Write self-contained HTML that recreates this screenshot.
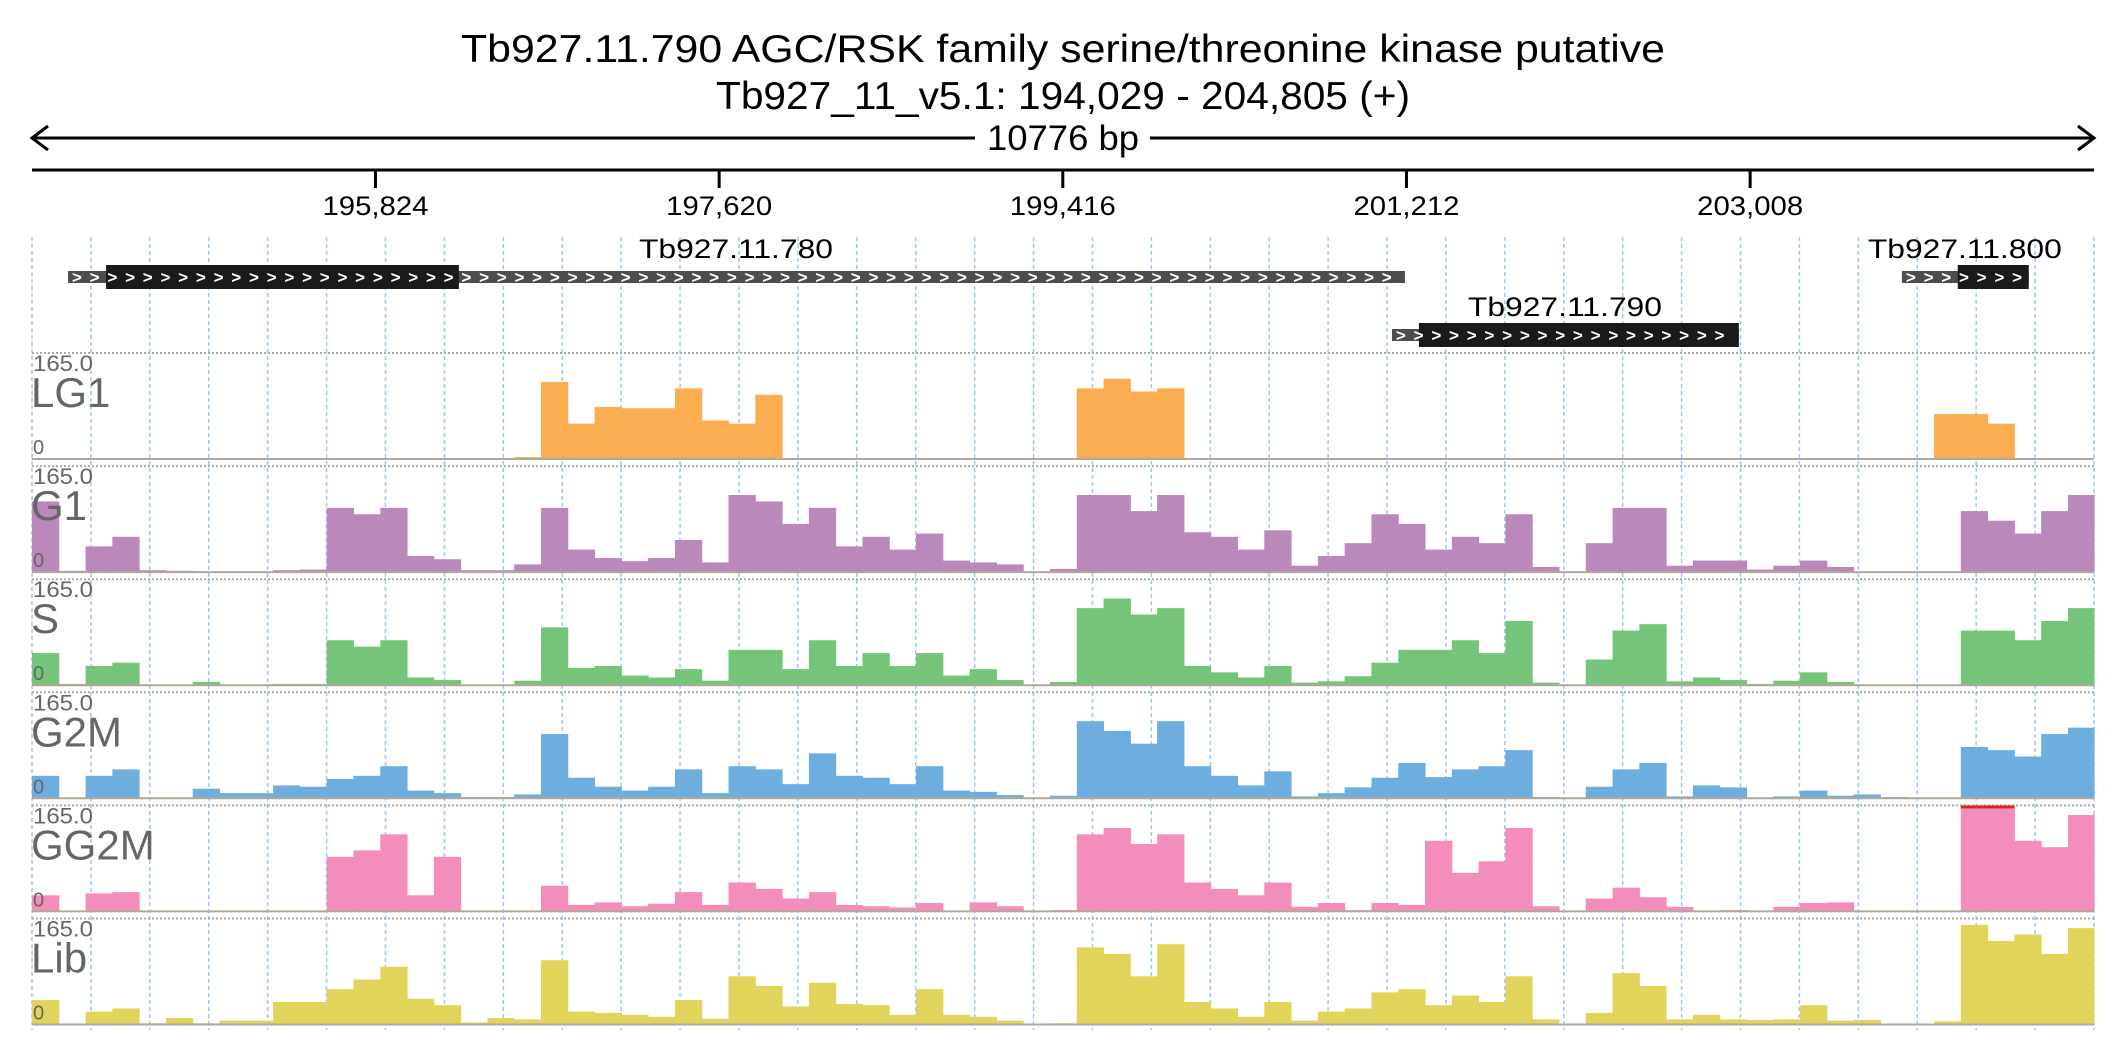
<!DOCTYPE html>
<html><head><meta charset="utf-8"><style>
html,body{margin:0;padding:0;background:#fff;}
svg{display:block;font-family:"Liberation Sans",sans-serif;}
</style></head><body>
<svg id="chart" width="2126" height="1058" viewBox="0 0 2126 1058" xmlns="http://www.w3.org/2000/svg">
<g id="grid"></g>
<text x="1063" y="62" font-size="39" text-anchor="middle" textLength="1204" lengthAdjust="spacingAndGlyphs" fill="#000">Tb927.11.790  AGC/RSK family serine/threonine kinase  putative</text>
<text x="1063" y="109" font-size="39" text-anchor="middle" textLength="694" lengthAdjust="spacingAndGlyphs" fill="#000">Tb927_11_v5.1: 194,029 - 204,805 (+)</text>
<g stroke="#000" stroke-width="3" fill="none">
<line x1="32" y1="138" x2="975" y2="138"/><line x1="1150" y1="138" x2="2094" y2="138"/>
<polyline points="48,126 32,138 48,150"/><polyline points="2078,126 2094,138 2078,150"/>
</g>
<text x="1063" y="150" font-size="35" text-anchor="middle" textLength="152" lengthAdjust="spacingAndGlyphs">10776 bp</text>
<line x1="32" y1="170" x2="2094" y2="170" stroke="#000" stroke-width="3"/>
<g id="ticks"></g>
<g id="genes"></g>
<g id="tracks"></g>
</svg>
<script>
const START = 194029, END = 204805, BIN = 140;
const tickValues = [195824, 197620, 199416, 201212, 203008];
const tickLabels = ["195,824", "197,620", "199,416", "201,212", "203,008"];
const trackNames = ["LG1", "G1", "S", "G2M", "GG2M", "Lib"];
const trackColors = ["#fbad52", "#bb88bb", "#76c479", "#6daedf", "#f38dbb", "#e0d55a"];
const yMax = 165;
const lg1 = [0,0,0,0,0,0,0,0,0,0,0,0,0,0,0,0,0,0,3,120,55,81,79,79,110,60,55,100,0,0,0,0,0,0,0,0,0,0,0,110,125,105,110,0,0,0,0,0,0,0,0,0,0,0,0,0,0,0,0,0,0,0,0,0,0,0,0,0,0,0,0,70,70,55,0,0,0];
const g1 = [110,2,40,55,3,2,1,1,1,3,4,100,90,100,25,20,3,3,12,100,35,22,17,22,50,15,120,110,75,100,40,55,35,60,18,15,12,1,5,120,120,95,120,62,55,35,65,10,25,45,90,75,35,55,45,90,8,0,45,100,100,10,18,18,4,10,18,8,0,0,0,0,95,80,60,95,120];
const s = [50,2,30,35,1,0,5,0,0,2,2,70,60,70,12,8,1,1,7,90,27,30,15,12,25,7,55,55,25,70,30,50,30,50,15,25,8,0,5,120,135,110,120,30,20,12,30,4,6,14,35,55,55,70,50,100,4,0,40,85,95,6,12,8,2,7,20,5,1,1,0,0,85,85,70,100,120];
const g2m = [35,1,35,45,0,0,15,8,8,20,18,30,35,50,12,8,2,2,6,100,32,18,12,18,45,8,50,45,22,70,35,32,22,50,12,10,5,0,4,120,105,85,120,50,35,20,42,3,8,17,32,55,33,45,50,75,2,0,18,45,55,3,20,17,1,3,12,4,6,2,0,1,80,75,65,100,110];
const gg2m = [25,0,28,30,0,0,0,0,0,0,1,85,95,120,25,85,0,0,1,40,10,14,8,12,30,10,45,35,20,30,10,8,6,13,0,14,8,0,2,120,130,105,120,45,35,25,45,7,13,2,13,10,110,60,78,130,8,0,20,37,22,7,1,2,0,7,13,14,0,0,0,0,165,165,110,100,150];
const lib = [38,0,20,25,2,10,2,6,6,35,35,55,70,90,40,30,3,10,8,100,20,18,15,12,38,9,75,60,28,65,32,30,15,55,15,12,6,0,2,120,110,75,125,35,25,12,35,6,20,25,50,55,30,45,35,75,8,0,18,80,60,8,15,8,7,8,30,6,7,0,0,5,155,130,140,110,150];
const trackData = [lg1, g1, s, g2m, gg2m, lib];
const geneNames = ["Tb927.11.780", "Tb927.11.790", "Tb927.11.800"];
</script>
<script>
const NS = "http://www.w3.org/2000/svg";
const X0 = 32, X1 = 2094;
function xs(bp){ return X0 + (bp - START) / (END - START) * (X1 - X0); }
function mk(tag, attrs, parent){ const e = document.createElementNS(NS, tag); for (const k in attrs) e.setAttribute(k, attrs[k]); parent.appendChild(e); return e; }
const grid = document.getElementById('grid');
for (let k = 0; k <= 35; k++) {
  const x = X0 + k * (X1 - X0) / 35;
  const l = mk('line', {x1:x, y1:237, x2:x, y2:1030, stroke:'#9cc8ef', 'stroke-width':1.5, 'stroke-dasharray':'4,3'}, grid);
  
  
}
const ticks = document.getElementById('ticks');
tickValues.forEach((v, i) => {
  const x = xs(v);
  const t = mk('line', {x1:x, y1:170, x2:x, y2:188, stroke:'#000', 'stroke-width':3}, ticks);
  
  
  const lb = mk('text', {x:x, y:215, 'font-size':27, 'text-anchor':'middle', textLength:106, lengthAdjust:'spacingAndGlyphs'}, ticks);
  lb.textContent = tickLabels[i];
  
  
});
const genesG = document.getElementById('genes');
const geneBp = [[194217, 194416, 196260, 201204], [201136, 201277, 202949, 202949], [203801, 204093, 204464, 204464]];
const geneRow = [0, 1, 0];
const geneLabelBp = [197708, 202040, 204130];
geneBp.forEach((g, i) => {
  const yc = geneRow[i] ? 335 : 277;
  const grp = mk('g', {}, genesG);
  
  
  mk('rect', {x:xs(g[0]), y:yc-6, width:xs(g[3])-xs(g[0]), height:12, fill:'#4d4d4d'}, grp);
  mk('rect', {x:xs(g[1]), y:yc-12, width:xs(g[2])-xs(g[1]), height:24, fill:'#1a1a1a'}, grp);
  const x0 = xs(g[0]) + 4, x1 = Math.max(xs(g[2]), xs(g[3])) - 8;
  for (let x = x0; x < x1; x += 17.7) {
    const c = mk('text', {x:x, y:yc+6, 'font-size':17, fill:'#fff', 'font-weight':'bold'}, grp);
    c.textContent = '>';
  }
  const lb = mk('text', {x:xs(geneLabelBp[i]), y:yc-19, 'font-size':27, 'text-anchor':'middle', textLength:194, lengthAdjust:'spacingAndGlyphs'}, grp);
  lb.textContent = geneNames[i];
});
const tracksG = document.getElementById('tracks');
const T0 = 353, STEP = 113.1, H = 106;
const binPx = BIN / (END - START) * (X1 - X0);
trackData.forEach((arr, ti) => {
  const top = T0 + ti * STEP, base = top + H;
  const g = mk('g', {}, tracksG);
  
  
  mk('line', {x1:X0, y1:top, x2:X1, y2:top, stroke:'#aaa', 'stroke-width':2, 'stroke-dasharray':'2,2'}, g);
  arr.forEach((v, i) => {
    const x = xs(START + i * BIN);
    const w = Math.min(binPx, X1 - x);
    if (w <= 0 || v <= 0) return;
    const vv = Math.min(v, yMax);
    const h = vv / yMax * H;
    const r = mk('rect', {x:x, y:base - h, width:w + 0.5, height:h, fill:trackColors[ti]}, g);
    
    
    if (v >= yMax) mk('rect', {x:x, y:top, width:w, height:3, fill:'#d42a20'}, g);
  });
  mk('line', {x1:X0, y1:base, x2:X1, y2:base, stroke:'#b0a898', 'stroke-width':2}, g);
  const mx = mk('text', {x:33, y:top+18, 'font-size':22, fill:'#666', textLength:60, lengthAdjust:'spacingAndGlyphs'}, g);
  mx.textContent = '165.0';
  
  
  const nm = mk('text', {x:31, y:top+54, 'font-size':42, fill:'#666'}, g);
  nm.textContent = trackNames[ti];
  
  
  const zr = mk('text', {x:33, y:base-5, 'font-size':20, fill:'#666'}, g);
  zr.textContent = '0';
  
  
});
</script>
</body></html>
